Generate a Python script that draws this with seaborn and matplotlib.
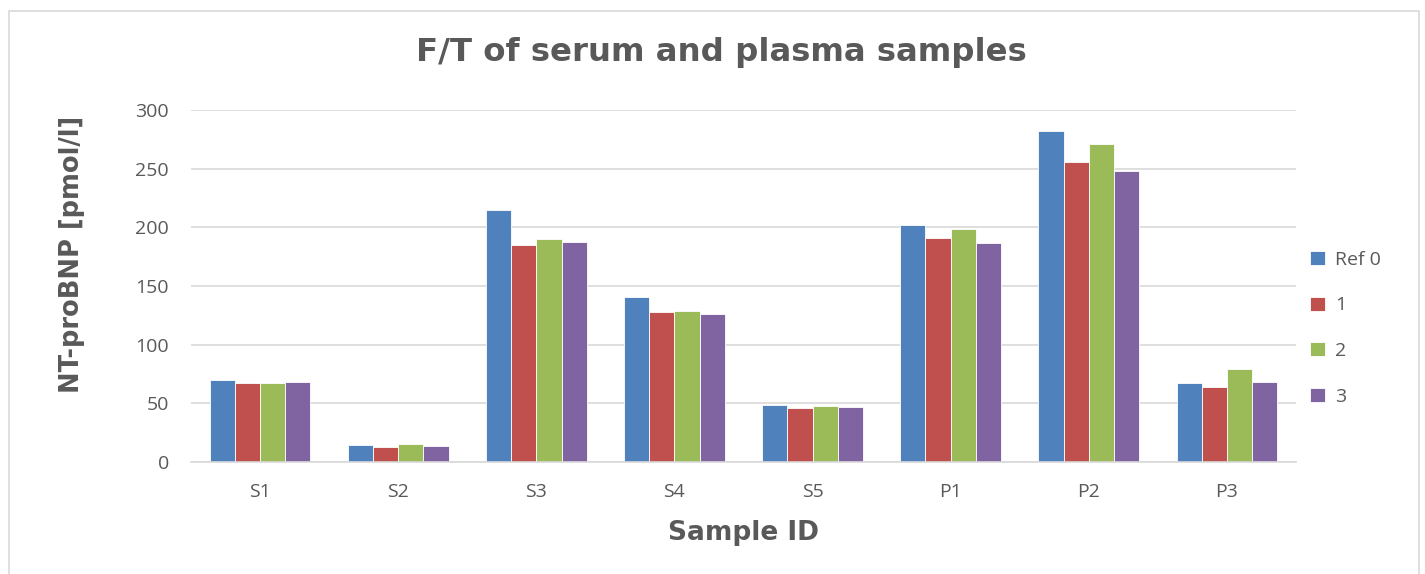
import numpy as np
import pandas as pd
import matplotlib
matplotlib.use("Agg")
import matplotlib.pyplot as plt
import seaborn as sns
from matplotlib.patches import Rectangle

samples = ["S1", "S2", "S3", "S4", "S5", "P1", "P2", "P3"]
series = ["Ref 0", "1", "2", "3"]
ref0 = [69.5, 14.5, 215, 141, 49, 202, 282, 67.5]
ft1 = [67, 12.5, 185, 128, 46, 191, 256, 64]
ft2 = [67, 15, 190, 129, 48, 199, 271, 79]
ft3 = [68.5, 14, 187.5, 126, 47, 187, 248, 68.5]
colors = ["#4F81BD", "#C0504D", "#9BBB59", "#8064A2"]

df = pd.DataFrame({
    "sample": samples * 4,
    "series": [s for s in series for _ in samples],
    "value": ref0 + ft1 + ft2 + ft3,
})

sns.set_style("white")
plt.rcParams["font.family"] = ["Open Sans", "DejaVu Sans"]
text_grey = "#595959"

fig = plt.figure(figsize=(14.25, 5.74), dpi=100)
ax = fig.add_axes([191 / 1425, 1 - 462 / 574, 1105 / 1425, 352 / 574])

sns.barplot(data=df, x="sample", y="value", hue="series", order=samples,
            hue_order=series, palette=colors, width=0.73, saturation=1,
            edgecolor="white", linewidth=0.6, ax=ax, legend=True)

ax.set_ylim(0, 300)
ax.set_yticks(np.arange(0, 301, 50))
ax.yaxis.grid(True, color="#D9D9D9", linewidth=1.2)
ax.set_axisbelow(True)
for side in ["top", "right", "left"]:
    ax.spines[side].set_visible(False)
ax.spines["bottom"].set_color("#D9D9D9")
ax.spines["bottom"].set_linewidth(1.2)
ax.tick_params(axis="both", length=0, labelsize=14, colors=text_grey)
ax.tick_params(axis="y", pad=16)
ax.tick_params(axis="x", pad=15)

ax.set_xlabel("Sample ID", fontsize=19, fontweight="bold", color=text_grey,
              family="DejaVu Sans", va="top")
ax.xaxis.set_label_coords(0.5, -0.165)
ax.set_ylabel("NT-proBNP [pmol/l]", fontsize=18.5, fontweight="bold", color=text_grey,
              family="DejaVu Sans")
ax.yaxis.set_label_coords(-0.096, 0.59)
fig.text(721 / 1425, 1 - 53 / 574, "F/T of serum and plasma samples", ha="center",
         va="center", fontsize=23.3, fontweight="bold", color=text_grey, family="DejaVu Sans")

leg = ax.legend(loc="center left", bbox_to_anchor=(0.997, 0.38), frameon=False,
                fontsize=14, labelspacing=1.42, handlelength=0.75, handleheight=0.75,
                handletextpad=0.55)
for t in leg.get_texts():
    t.set_color(text_grey)

fig.patches.append(Rectangle((9 / 1425, -0.05), 1410 / 1425, 1.05 - 11 / 574,
                             transform=fig.transFigure, fill=False,
                             edgecolor="#D9D9D9", linewidth=1.2))

fig.savefig("out.png", dpi=100)
